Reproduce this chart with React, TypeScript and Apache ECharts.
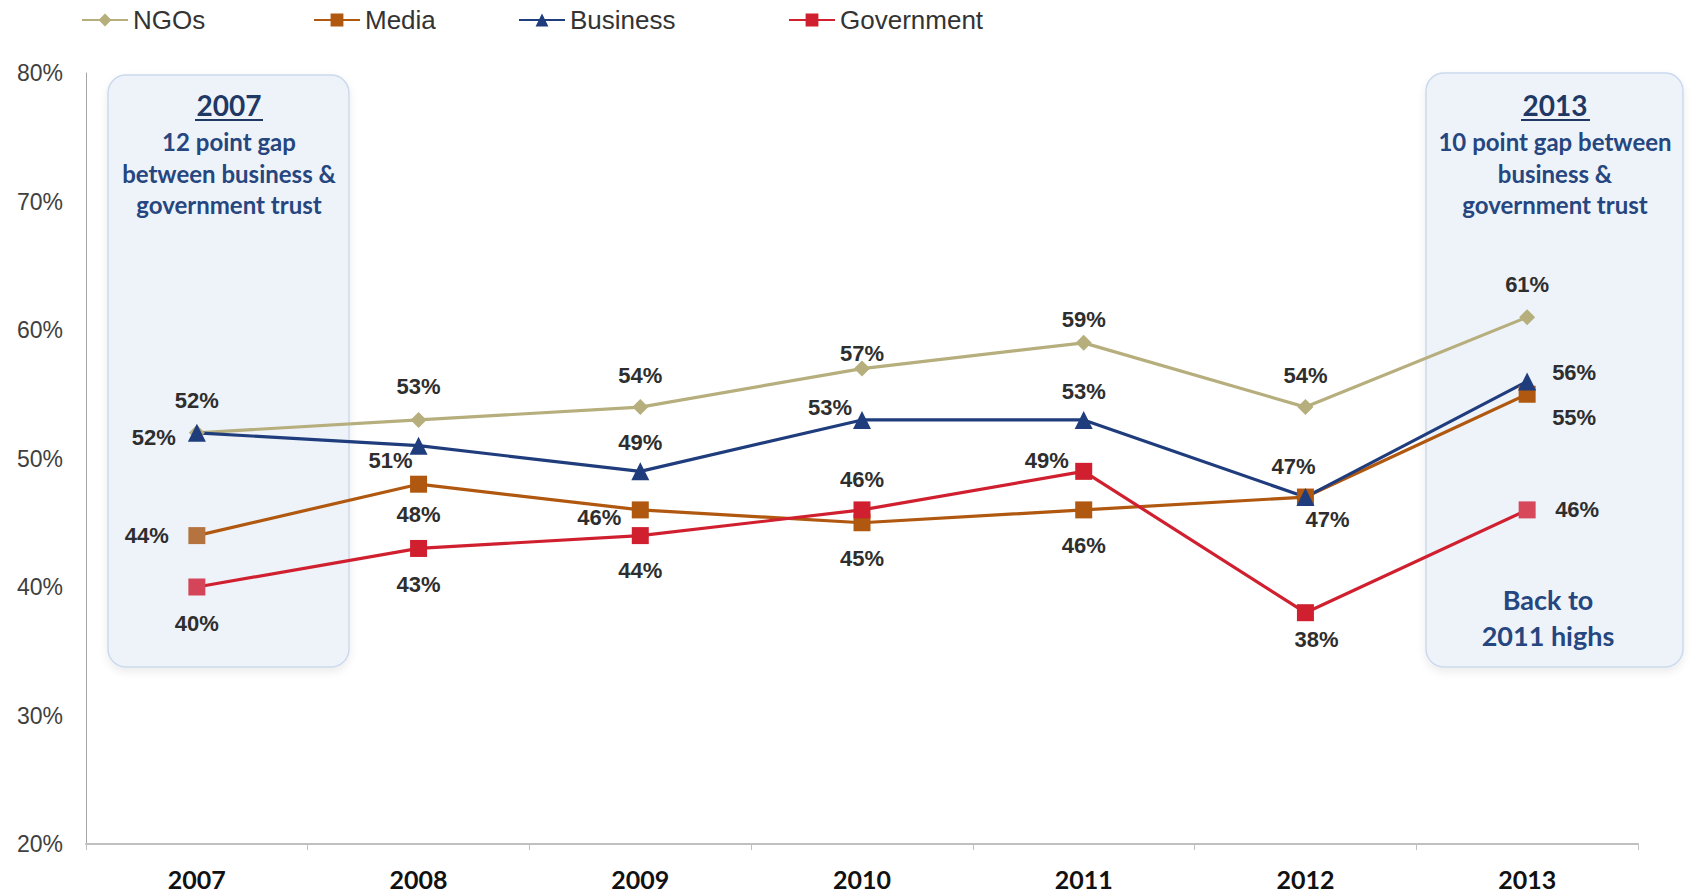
import React, { useEffect, useRef } from "react";
import * as echarts from "echarts";

const years = ["2007", "2008", "2009", "2010", "2011", "2012", "2013"];
const ngos = [52, 53, 54, 57, 59, 54, 61];
const media = [44, 48, 46, 45, 46, 47, 55];
const business = [52, 51, 49, 53, 53, 47, 56];
const government = [40, 43, 44, 46, 49, 38, 46];
const yTicks = [20, 30, 40, 50, 60, 70, 80];

// label offsets (dx, dy) in px from each marker
const ngoOff = [[0, -32], [0, -33], [0, -32], [0, -15], [0, -23], [0, -32], [0, -33]];
const mediaOff = [[-50, 0], [0, 30], [-41, 8], [0, 36], [0, 36], [22, 22], [47, 23]];
const busOff = [[-43, 5], [-28, 15], [0, -29], [-32, -12], [0, -28], [-12, -31], [47, -9]];
const govOff = [[0, 36], [0, 36], [0, 35], [0, -30], [-37, -11], [11, 27], [50, 0]];

const COLORS = {
  ngo: "#b6ae7c",
  media: "#b0580f",
  bus: "#1f3c7c",
  gov: "#d0202f",
};

const labelFont = "'Liberation Sans', Arial, sans-serif";
const calibri = "Lato, 'Open Sans', sans-serif";

function mkData(vals: number[], offs: number[][], special?: Record<number, string>) {
  return vals.map((v, i) => {
    const d: any = {
      value: v,
      label: { offset: offs[i] },
    };
    if (special && special[i]) d.itemStyle = { color: special[i] };
    return d;
  });
}

function mkSeries(name: string, vals: number[], offs: number[][], color: string, symbol: string, size: number, special?: Record<number, string>) {
  return {
    name,
    type: "line",
    data: mkData(vals, offs, special),
    symbol,
    symbolSize: size,
    showAllSymbol: true,
    lineStyle: { color, width: 3.2 },
    itemStyle: { color },
    label: {
      show: true,
      position: "inside",
      align: "center",
      verticalAlign: "middle",
      formatter: "{c}%",
      color: "#2e2e2e",
      fontFamily: labelFont,
      fontWeight: "bold",
      fontSize: 22,
    },
    emphasis: { disabled: true },
  };
}

export default function App() {
  const ref = useRef<HTMLDivElement>(null);
  useEffect(() => {
    document.body.style.margin = "0";
    const chart = echarts.init(ref.current!, null, { renderer: "svg" });
    const yearStyle = { fill: "#1f3864", font: `bold 28px ${calibri}`, align: "center", verticalAlign: "middle", textAlign: "center", textVerticalAlign: "middle" };
    const lineStyleTxt = (size: number) => ({ fill: "#26467f", font: `bold ${size}px ${calibri}`, align: "center", verticalAlign: "middle", textAlign: "center", textVerticalAlign: "middle" });
    const boxStyle = {
      fill: "#eef3fa",
      stroke: "#cbd9ed",
      lineWidth: 1.5,
      shadowBlur: 8,
      shadowColor: "rgba(0,0,0,0.08)",
      shadowOffsetY: 4,
    };
    const legendBase = {
      top: 2,
      itemWidth: 46,
      itemHeight: 16,
      textStyle: { fontFamily: labelFont, fontSize: 26, color: "#333333", lineHeight: 26 },
    };
    chart.setOption({
      animation: false,
      backgroundColor: "#ffffff",
      legend: [
        { ...legendBase, left: 76, data: ["NGOs"] },
        { ...legendBase, left: 308, data: ["Media"] },
        { ...legendBase, left: 513, data: ["Business"] },
        { ...legendBase, left: 783, data: ["Government"] },
      ],
      grid: { left: 86, right: 54, top: 73, bottom: 52, containLabel: false },
      xAxis: {
        type: "category",
        data: years,
        boundaryGap: true,
        axisLine: { lineStyle: { color: "#c0c0c0", width: 2 } },
        axisTick: { show: true, length: 6, lineStyle: { color: "#c0c0c0" } },
        axisLabel: { fontFamily: calibri, fontWeight: "bold", fontSize: 25, lineHeight: 25, color: "#111111", margin: 22 },
      },
      yAxis: {
        type: "value",
        min: yTicks[0],
        max: yTicks[yTicks.length - 1],
        interval: 10,
        axisLine: { show: true, lineStyle: { color: "#a6a6a6", width: 1 } },
        axisTick: { show: false },
        splitLine: { show: false },
        axisLabel: { formatter: "{value}%", fontFamily: labelFont, fontSize: 23, color: "#404040", margin: 23 },
      },
      graphic: [
        { type: "rect", z: -10, shape: { x: 108, y: 75, width: 241, height: 592, r: 18 }, style: boxStyle, silent: true },
        { type: "rect", z: -10, shape: { x: 1426, y: 73, width: 257, height: 594, r: 18 }, style: boxStyle, silent: true },
        { type: "text", x: 229, y: 105, style: { ...yearStyle, text: "2007" } },
        { type: "line", shape: { x1: 195, y1: 120, x2: 263, y2: 120 }, style: { stroke: "#1f3864", lineWidth: 2 } },
        { type: "text", x: 229, y: 141, style: { ...lineStyleTxt(24), text: "12 point gap" } },
        { type: "text", x: 229, y: 173, style: { ...lineStyleTxt(24), text: "between business &" } },
        { type: "text", x: 229, y: 204, style: { ...lineStyleTxt(24), text: "government trust" } },
        { type: "text", x: 1555, y: 105, style: { ...yearStyle, text: "2013" } },
        { type: "line", shape: { x1: 1521, y1: 120, x2: 1590, y2: 120 }, style: { stroke: "#1f3864", lineWidth: 2 } },
        { type: "text", x: 1555, y: 141, style: { ...lineStyleTxt(24), text: "10 point gap between" } },
        { type: "text", x: 1555, y: 173, style: { ...lineStyleTxt(24), text: "business &" } },
        { type: "text", x: 1555, y: 204, style: { ...lineStyleTxt(24), text: "government trust" } },
        { type: "text", x: 1548, y: 599, style: { ...lineStyleTxt(27), text: "Back to" } },
        { type: "text", x: 1548, y: 635, style: { ...lineStyleTxt(27), text: "2011 highs" } },
      ],
      series: [
        mkSeries("NGOs", ngos, ngoOff, COLORS.ngo, "diamond", 16),
        mkSeries("Media", media, mediaOff, COLORS.media, "rect", 17, { 0: "#b5743f" }),
        mkSeries("Business", business, busOff, COLORS.bus, "triangle", 18),
        mkSeries("Government", government, govOff, COLORS.gov, "rect", 17, { 0: "#d4455a", 6: "#d6485a" }),
      ],
    });
    return () => chart.dispose();
  }, []);
  return <div ref={ref} style={{ position: "fixed", left: 0, top: 0, width: 1692, height: 896 }} />;
}
